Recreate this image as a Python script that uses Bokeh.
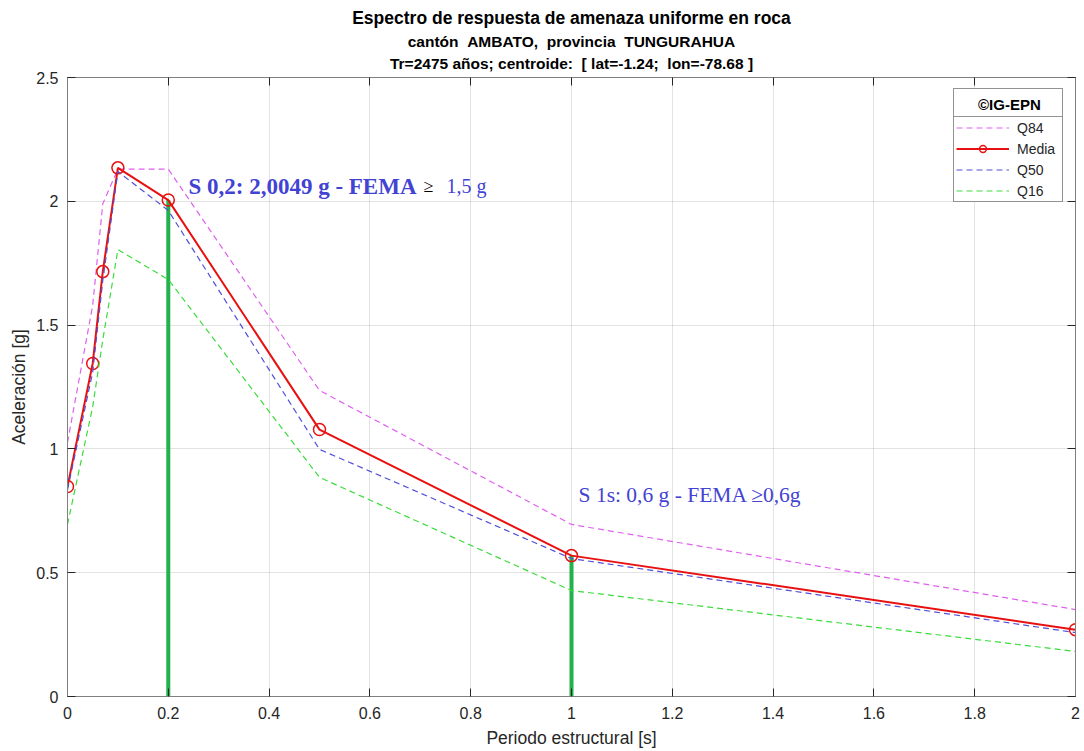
from bokeh.plotting import figure
from bokeh.models import (Legend, LegendItem, Label, Title, LinearAxis, FixedTicker,
                          NumeralTickFormatter, Range1d, CustomLabelingPolicy)
from bokeh.embed import file_html
from bokeh.resources import INLINE

# ---------------- data ----------------
periods = [0.0, 0.05, 0.07, 0.1, 0.2, 0.5, 1.0, 2.0]
media = [0.848, 1.345, 1.716, 2.135, 2.0049, 1.078, 0.569, 0.270]
q84 = [1.026, 1.58, 1.99, 2.13, 2.13, 1.236, 0.695, 0.351]
q50 = [0.835, 1.31, 1.68, 2.12, 1.963, 0.998, 0.557, 0.258]
q16 = [0.695, 1.17, 1.44, 1.805, 1.684, 0.885, 0.428, 0.182]
fema_periods = [0.2, 1.0]
fema_values = [2.0049, 0.569]
x_ticks = [0, 0.2, 0.4, 0.6, 0.8, 1.0, 1.2, 1.4, 1.6, 1.8, 2.0]
y_ticks = [0, 0.5, 1.0, 1.5, 2.0, 2.5]

NB = "\u00a0"
title1 = "Espectro de respuesta de amenaza uniforme en roca"
title2 = "cantón " + NB + "AMBATO, " + NB + "provincia " + NB + "TUNGURAHUA"
title3 = "Tr=2475 años; centroide: " + NB + "[ lat=-1.24; " + NB + "lon=-78.68 ]"
xlabel = "Periodo estructural [s]"
ylabel = "Aceleración [g]"
legend_title = "©IG-EPN"
ann1_bold = "S 0,2: 2,0049 g - FEMA"
ann1_sym = "≥"
ann1_rest = "1,5 g"
ann2 = "S 1s: 0,6 g - FEMA ≥0,6g"

# ---------------- styles ----------------
SANS = "Liberation Sans"
SERIF = "Liberation Serif"
DARK = "#262626"
AXC = "#808080"
C84 = "#E060F0"
C50 = "#5050D8"
C16 = "#3CDC3C"
CRED = "#E81010"
CFEMA = "#22B14C"
CANN = "#4343D3"

p = figure(width=1084, height=751, output_backend="svg", toolbar_location=None,
           x_range=Range1d(0, 2), y_range=Range1d(0, 2.5),
           min_border_left=67, min_border_right=9, min_border_top=77, min_border_bottom=55,
           title=title1)
p.background_fill_color = "white"
p.border_fill_color = "white"
p.outline_line_color = AXC

# titles
p.title.text_font = SANS
p.title.text_font_size = "17.5px"
p.title.text_font_style = "bold"
p.title.align = "center"
p.title.text_color = "black"
p.title.standoff = 3

# axes
for ax in (p.xaxis[0], p.yaxis[0]):
    ax.major_label_text_font = SANS
    ax.major_label_text_font_size = "16px"
    ax.major_label_text_color = DARK
    ax.axis_label_text_font = SANS
    ax.axis_label_text_font_size = "17.5px"
    ax.axis_label_text_font_style = "normal"
    ax.axis_label_text_color = DARK
    ax.axis_line_color = AXC
    ax.major_tick_line_color = DARK
    ax.major_tick_in = 8
    ax.major_tick_out = 0
    ax.minor_tick_line_color = None
    ax.formatter = NumeralTickFormatter(format="0.[0]")

p.xaxis.ticker = FixedTicker(ticks=x_ticks)
p.yaxis.ticker = FixedTicker(ticks=y_ticks)
p.xaxis.axis_label = xlabel
p.yaxis.axis_label = ylabel
p.xaxis.major_label_standoff = 10
p.xaxis.axis_label_standoff = 6
p.yaxis.major_label_standoff = 9
p.yaxis.axis_label_standoff = 4

# box axes (top/right ticks, no labels)
hide_all = CustomLabelingPolicy(code="""
for (const i of Array.from(indices)) { indices.unset(i) }
return indices
""")
top_ax = LinearAxis(ticker=FixedTicker(ticks=x_ticks), major_label_text_font_size="1px",
                    major_label_policy=hide_all,
                    major_tick_in=8, major_tick_out=0, minor_tick_line_color=None,
                    major_label_standoff=0, axis_line_color=AXC, major_tick_line_color=DARK)
right_ax = LinearAxis(ticker=FixedTicker(ticks=y_ticks), major_label_text_font_size="1px",
                      major_label_policy=hide_all,
                      major_tick_in=8, major_tick_out=0, minor_tick_line_color=None,
                      major_label_standoff=0, axis_line_color=AXC, major_tick_line_color=DARK)
p.add_layout(top_ax, "above")
p.add_layout(right_ax, "right")
p.add_layout(Title(text=title3, align="center", text_font=SANS, text_font_size="15.5px",
                   text_font_style="bold", text_color="black", standoff=3), "above")
p.add_layout(Title(text=title2, align="center", text_font=SANS, text_font_size="15.5px",
                   text_font_style="bold", text_color="black", standoff=3), "above")

# grid
p.grid.grid_line_color = DARK
p.grid.grid_line_alpha = 0.13
p.xgrid.ticker = FixedTicker(ticks=x_ticks)
p.ygrid.ticker = FixedTicker(ticks=y_ticks)

# FEMA vertical markers
p.segment(x0=fema_periods, y0=[0] * len(fema_periods), x1=fema_periods, y1=fema_values,
          line_color=CFEMA, line_width=4)

# series
r84 = p.line(periods, q84, line_color=C84, line_width=1.2, line_dash="6 4")
rmed_l = p.line(periods, media, line_color=CRED, line_width=2)
rmed_m = p.scatter(periods, media, marker="circle", size=12, fill_color=None,
                   line_color=CRED, line_width=1.5)
r50 = p.line(periods, q50, line_color=C50, line_width=1.2, line_dash="6 4")
r16 = p.line(periods, q16, line_color=C16, line_width=1.2, line_dash="6 4")
r_blank = p.line(periods, media, line_alpha=0)

# annotations
p.add_layout(Label(x=0.24, y=2.06, text=ann1_bold, text_font=SERIF, text_font_size="23px",
                   text_font_style="bold", text_color=CANN, text_baseline="alphabetic"))
p.add_layout(Label(x=0.24, y=2.06, x_offset=235, text=ann1_sym, text_font=SERIF,
                   text_font_size="18px", text_color="black", text_baseline="alphabetic"))
p.add_layout(Label(x=0.24, y=2.06, x_offset=258, text=ann1_rest, text_font=SERIF,
                   text_font_size="20px", text_color=CANN, text_baseline="alphabetic"))
p.add_layout(Label(x=1.014, y=0.812, text=ann2, text_font=SERIF, text_font_size="21.5px",
                   text_color=CANN, text_baseline="alphabetic"))

# legends
legA = Legend(items=[LegendItem(label=legend_title, renderers=[r_blank])],
              location=(886, 576), margin=0, padding=3, glyph_width=18, glyph_height=24,
              label_height=24, label_standoff=3, label_width=81,
              label_text_font=SANS, label_text_font_size="15px", label_text_font_style="bold",
              label_text_color="black", border_line_color=DARK, border_line_width=1,
              background_fill_color="white", background_fill_alpha=1)
legB = Legend(items=[LegendItem(label="Q84", renderers=[r84]),
                     LegendItem(label="Media", renderers=[rmed_l, rmed_m]),
                     LegendItem(label="Q50", renderers=[r50]),
                     LegendItem(label="Q16", renderers=[r16])],
              location=(886, 494), margin=0, padding=2, glyph_width=53, glyph_height=17,
              label_height=17, label_standoff=8, label_width=43, spacing=4,
              label_text_font=SANS, label_text_font_size="14px", label_text_color=DARK,
              border_line_color=DARK, border_line_width=1,
              background_fill_color="white", background_fill_alpha=1)
p.add_layout(legA)
p.add_layout(legB)

open("out.html", "w").write(file_html(p, INLINE))
